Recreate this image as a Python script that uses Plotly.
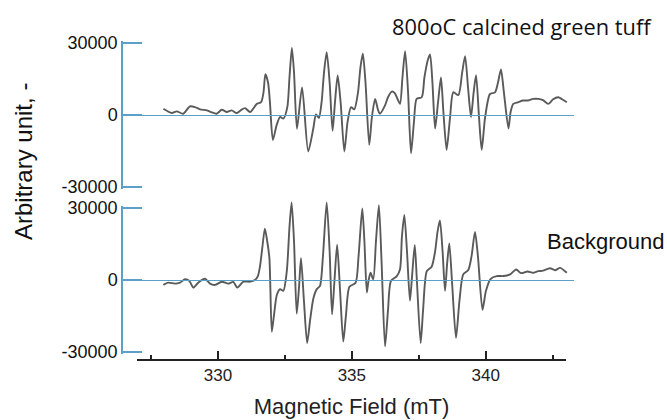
import plotly.graph_objects as go

# ---- data ----
top_field = [327.96, 328.27, 328.46, 328.70, 328.95, 329.14, 329.33, 329.58, 329.74, 329.95,
             330.14, 330.33, 330.51, 330.70, 330.86, 331.01, 331.20, 331.45, 331.61, 331.70,
             331.77, 331.87, 331.94, 332.05, 332.19, 332.32, 332.44, 332.59, 332.67, 332.76,
             332.84, 332.95, 333.14, 333.37, 333.56, 333.66, 333.77, 333.87, 333.96, 334.06,
             334.17, 334.28, 334.37, 334.47, 334.58, 334.72, 334.84, 334.97, 335.09, 335.23,
             335.32, 335.41, 335.51, 335.65, 335.75, 335.87, 335.98, 336.05, 336.24, 336.35,
             336.49, 336.61, 336.71, 336.80, 336.89, 336.99, 337.10, 337.21, 337.32, 337.42,
             337.61, 337.71, 337.83, 337.92, 338.01, 338.11, 338.22, 338.33, 338.42, 338.54,
             338.67, 338.79, 338.98, 339.12, 339.23, 339.34, 339.45, 339.55, 339.64, 339.75,
             339.85, 339.98, 340.16, 340.35, 340.46, 340.57, 340.68, 340.85, 340.93, 341.03,
             341.22, 341.39, 341.59, 341.77, 341.97, 342.14, 342.34, 342.52, 342.71, 342.85,
             343.03]
top_signal = [2590, 820, 1520, 530, 3580, 3290, 2340, 1930, 1230, 530,
              2180, 1230, 1930, 820, 2060, 2880, 1230, 4640, 5340, 9450,
              16970, 13560, 5340, -10400, -4230, -820, -1520, 3290, 15620, 27950,
              17670, -5750, 11510, -15210, -5630, 210, -1230, 5340, 17670, 26180,
              13560, -6580, 5340, 16440, 5340, -15210, -2880, 3290, 2340, 9450,
              19730, 25610, 13560, -12450, -820, 6700, 2060, 530, 3990, 7400,
              9740, 9040, 6580, 4640, 15620, 26590, 9450, -15910, -2880, 6700,
              7400, 15620, 22610, 25190, 13560, -5630, 5340, 15620, 1230, -14510,
              -820, 9450, 8340, 17670, 24540, 11510, -820, 9450, 16560, -820,
              -14510, -820, 8750, 9450, 13560, 19030, 9450, -5630, 1230, 4640,
              5340, 6040, 6040, 6700, 6700, 6170, 4640, 6580, 7400, 6580,
              5340]

bottom_field = [327.96, 328.14, 328.39, 328.58, 328.77, 328.93, 329.08, 329.26, 329.51, 329.70,
                329.89, 330.14, 330.38, 330.57, 330.72, 330.95, 331.20, 331.38, 331.49, 331.57,
                331.66, 331.75, 331.83, 331.92, 332.01, 332.09, 332.20, 332.32, 332.44, 332.57,
                332.67, 332.75, 332.84, 332.94, 333.03, 333.10, 333.21, 333.33, 333.44, 333.56,
                333.69, 333.81, 333.92, 334.06, 334.17, 334.26, 334.35, 334.45, 334.56, 334.68,
                334.78, 334.91, 335.14, 335.25, 335.39, 335.47, 335.56, 335.62, 335.70, 335.80,
                335.90, 336.01, 336.11, 336.24, 336.35, 336.46, 336.68, 336.80, 336.87, 336.96,
                337.06, 337.17, 337.25, 337.35, 337.43, 337.57, 337.66, 337.80, 337.98, 338.11,
                338.20, 338.29, 338.39, 338.48, 338.56, 338.64, 338.74, 338.89, 339.02, 339.16,
                339.35, 339.47, 339.60, 339.71, 339.88, 340.01, 340.18, 340.41, 340.66, 340.91,
                341.14, 341.32, 341.56, 341.77, 341.96, 342.14, 342.40, 342.59, 342.78, 343.03]
bottom_signal = [-2050, -1100, -1510, -1100, 290, -410, -3150, -1100, 530, -1510,
                 -2050, -700, -1510, -820, -3150, -700, -700, 0, 1640, 5730,
                 13910, 21390, 16770, 9120, -21550, -14720, -6140, -3800, -4500, 3680,
                 22090, 32310, 15950, -14030, -2450, 9120, -8590, -26300, -16770, -7770,
                 -3800, -2450, 9820, 32310, 11860, -14320, -410, 14720, -4500, -25640,
                 -14720, -2860, -1100, 9820, 29860, 15950, -5190, -410, 2990, 290,
                 15950, 31210, 7770, -27690, -12680, -410, 1640, 4500, 18000, 27120,
                 11860, -8590, 1640, 14600, -410, -26300, -12680, 3680, 5520, 11860,
                 20040, 24830, 11860, -4500, 6950, 15260, -410, -24130, -8590, 2330,
                 4170, 9820, 20040, 9820, -12390, -4500, 410, 1640, 1640, 2330,
                 4380, 2860, 3560, 2990, 3680, 3890, 4910, 4090, 5030, 2990]

y_ticks = [-30000, 0, 30000]
x_ticks = [330, 335, 340]
x_minor = [327.5, 332.5, 337.5, 342.5]

W, H = 667, 420
def fx(px):
    return px / W
def fy(py):
    return 1 - py / H

AX = "#5aa0c8"
LINE = "#5a5a5a"
FONT = "Liberation Sans, Arial, sans-serif"

fig = go.Figure()
line_style = dict(color=LINE, width=1.9, shape="spline", smoothing=0.7)
fig.add_trace(go.Scatter(x=top_field, y=top_signal, mode="lines", line=line_style,
                         xaxis="x", yaxis="y", showlegend=False, hoverinfo="skip"))
fig.add_trace(go.Scatter(x=bottom_field, y=bottom_signal, mode="lines", line=line_style,
                         xaxis="x", yaxis="y2", showlegend=False, hoverinfo="skip"))
# empty traces so that the decorative axes get their subplots drawn
for xa, ya in (("x", "y3"), ("x", "y4"), ("x2", "y5")):
    fig.add_trace(go.Scatter(x=[], y=[], mode="lines", xaxis=xa, yaxis=ya,
                             showlegend=False, hoverinfo="skip"))

x_lo = 330 + (123 - 218) / 26.77
x_hi = 330 + (574 - 218) / 26.77
yr = 30000 * 88 / 72          # hidden data axes: 72 px per 30000, 88 px half-height

# visible axes: range padded by 2 px so the end ticks (the "bracket" ends) are kept
pad = 30000 * 74 / 72
vis_y = dict(range=[-pad, pad], tickvals=y_ticks, ticktext=[str(v) for v in y_ticks],
             ticks="inside", ticklen=19, tickcolor=AX, tickwidth=1.5,
             showline=True, linecolor=AX, linewidth=1.5,
             zeroline=True, zerolinecolor=AX, zerolinewidth=1,
             showgrid=False, anchor="x", automargin=False,
             tickfont=dict(family=FONT, size=18, color="#111"), fixedrange=True)

fig.update_layout(
    template="none",
    width=W, height=H,
    margin=dict(l=0, r=0, t=0, b=0),
    paper_bgcolor="white", plot_bgcolor="rgba(0,0,0,0)",
    xaxis=dict(domain=[fx(123), fx(574)], range=[x_lo, x_hi], visible=False,
               anchor="y", automargin=False, fixedrange=True),
    yaxis=dict(domain=[fy(203), fy(27)], range=[-yr, yr], visible=False,
               anchor="x", automargin=False, fixedrange=True),
    yaxis2=dict(domain=[fy(368), fy(192)], range=[-yr, yr], visible=False,
                anchor="x", automargin=False, fixedrange=True),
    yaxis3=dict(domain=[fy(189), fy(41)], **vis_y),
    yaxis4=dict(domain=[fy(354), fy(206)], **vis_y),
    yaxis5=dict(domain=[fy(359), fy(355)], visible=False, anchor="x2",
                automargin=False, fixedrange=True),
    xaxis2=dict(domain=[fx(137), fx(566)],
                range=[330 + (137 - 218) / 26.77, 330 + (566 - 218) / 26.77],
                anchor="y5",
                tickvals=x_ticks, ticktext=[str(v) for v in x_ticks],
                ticks="inside", ticklen=8, tickwidth=1.5, tickcolor="#222",
                minor=dict(tickvals=x_minor, ticks="inside",
                           ticklen=4, tickwidth=1.5, tickcolor="#222"),
                showline=True, linecolor="#222", linewidth=1.5,
                showgrid=False, zeroline=False, automargin=False,
                tickfont=dict(family=FONT, size=17, color="#222"),
                title=dict(text="Magnetic Field (mT)", standoff=14,
                           font=dict(family=FONT, size=22, color="#222")),
                fixedrange=True),
    annotations=[
        dict(text="Arbitrary unit, -", textangle=-90, x=fx(24), y=fy(162),
             xref="paper", yref="paper", xanchor="center", yanchor="middle",
             showarrow=False, font=dict(family=FONT, size=24, color="#111")),
        dict(text="800oC calcined green tuff", x=fx(522), y=fy(26),
             xref="paper", yref="paper", xanchor="center", yanchor="middle",
             showarrow=False,
             font=dict(family="Open Sans, sans-serif", size=21.8, color="#111")),
        dict(text="Background", x=fx(605), y=fy(242),
             xref="paper", yref="paper", xanchor="center", yanchor="middle",
             showarrow=False, font=dict(family=FONT, size=22, color="#111")),
    ],
)

fig.write_html("out.html", config={"displayModeBar": False},
               post_script="document.body.style.margin='0';")
